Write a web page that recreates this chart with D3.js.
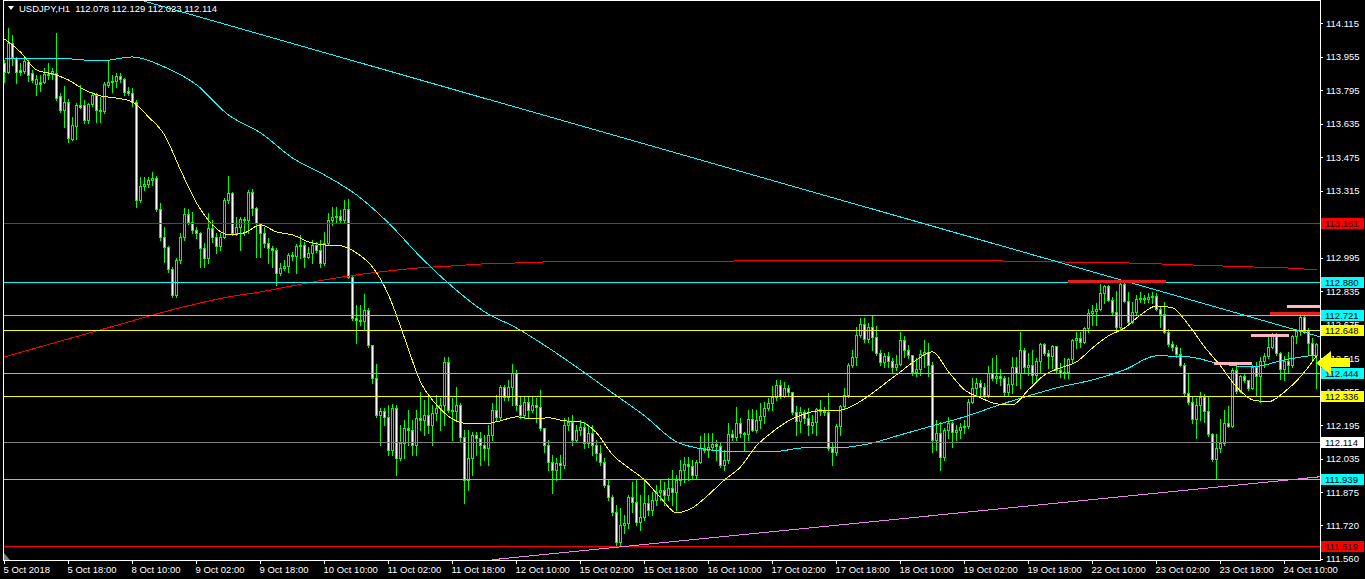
<!DOCTYPE html>
<html><head><meta charset="utf-8">
<script src="https://cdn.jsdelivr.net/npm/d3@7"></script>
<style>html,body{margin:0;padding:0;background:#000;overflow:hidden}svg{display:block}text{font-family:"Liberation Sans",Arial,sans-serif;font-size:9.5px}</style>
</head><body><svg id="c" width="1365" height="579"></svg>
<script>
// ---------- DATA (USDJPY H1, bars from 5 Oct 2018 02:00) ----------
const opens = [
113.925,113.881,114.020,113.948,113.891,113.886,113.929,113.877,113.824,113.833,
113.833,113.872,113.872,113.877,113.767,113.700,113.738,113.562,113.624,113.724,
113.724,113.653,113.729,113.772,113.700,113.696,113.820,113.833,113.839,113.862,
113.848,113.791,113.781,113.738,113.271,113.338,113.347,113.366,113.376,113.228,
113.094,113.047,112.942,112.818,112.985,113.094,113.204,113.166,113.128,113.114,
113.042,112.994,113.137,113.094,113.052,113.094,113.271,113.304,113.114,113.142,
113.180,113.176,113.309,113.233,113.157,113.114,113.066,113.042,113.033,112.923,
112.947,112.956,113.009,113.004,113.052,113.056,112.999,113.018,113.056,113.033,
112.970,113.066,113.176,113.190,113.195,113.176,113.228,112.904,112.708,112.699,
112.694,112.746,112.579,112.422,112.245,112.265,112.236,112.079,112.279,112.040,
112.112,112.184,112.174,112.102,112.231,112.222,112.245,112.198,112.255,112.279,
112.293,112.498,112.269,112.265,112.293,112.141,111.935,112.040,112.150,112.136,
112.102,112.088,112.150,112.269,112.236,112.379,112.331,112.379,112.446,112.293,
112.245,112.308,112.269,112.293,112.284,112.184,112.102,112.021,111.983,112.016,
112.007,112.198,112.212,112.126,112.174,112.188,112.112,112.160,112.102,112.064,
112.021,111.911,111.854,111.783,111.640,111.721,111.730,111.854,111.830,111.735,
111.759,111.826,111.792,111.840,111.878,111.888,111.864,111.897,111.878,111.935,
111.983,112.012,112.002,111.959,112.021,112.088,112.079,112.093,112.107,112.098,
112.007,112.031,112.155,112.141,112.207,112.160,112.155,112.226,112.174,112.222,
112.241,112.279,112.303,112.331,112.389,112.336,112.374,112.355,112.260,112.217,
112.260,112.231,112.198,112.212,112.274,112.265,112.260,112.088,112.069,112.193,
112.288,112.341,112.484,112.522,112.627,112.680,112.608,112.665,112.618,112.541,
112.498,112.527,112.503,112.474,112.489,112.603,112.556,112.532,112.451,112.465,
112.537,112.546,112.484,112.126,112.160,112.045,112.174,112.207,112.164,112.174,
112.188,112.193,112.308,112.374,112.398,112.379,112.341,112.446,112.422,112.431,
112.422,112.355,112.393,112.474,112.446,112.556,112.474,112.484,112.436,112.503,
112.584,112.541,112.527,112.575,112.460,112.446,112.451,112.513,112.603,112.613,
112.594,112.660,112.732,112.742,112.751,112.827,112.861,112.794,112.737,112.665,
112.870,112.789,112.689,112.737,112.799,112.804,112.799,112.808,112.813,112.751,
112.727,112.641,112.584,112.570,112.537,112.484,112.350,112.308,112.226,112.293,
112.331,112.265,112.155,112.036,112.088,112.112,112.207,112.193,112.460,112.360,
112.431,112.412,112.374,112.474,112.431,112.503,112.527,112.570,112.622,112.541,
112.465,112.503,112.484,112.622,112.646,112.713,112.646,112.589,112.532];
const highs = [
113.939,114.092,114.058,113.953,113.925,113.948,113.939,113.891,113.867,113.867,
113.901,113.925,113.901,114.068,113.781,113.815,113.753,113.667,113.734,113.820,
113.748,113.734,113.786,113.781,113.762,113.833,113.934,113.867,113.877,113.877,
113.853,113.810,113.805,113.748,113.381,113.381,113.381,113.405,113.385,113.257,
113.142,113.052,112.951,112.994,113.114,113.233,113.228,113.214,113.142,113.118,
113.066,113.209,113.176,113.114,113.114,113.281,113.385,113.309,113.190,113.190,
113.190,113.319,113.323,113.238,113.161,113.142,113.090,113.052,113.042,112.970,
112.985,113.018,113.023,113.061,113.104,113.071,113.047,113.080,113.071,113.080,
113.118,113.209,113.238,113.238,113.223,113.271,113.276,112.913,112.770,112.770,
112.823,112.756,112.579,112.489,112.279,112.279,112.293,112.298,112.293,112.198,
112.222,112.269,112.222,112.269,112.355,112.317,112.341,112.293,112.341,112.327,
112.522,112.522,112.327,112.379,112.303,112.174,112.174,112.164,112.164,112.164,
112.150,112.198,112.303,112.341,112.389,112.389,112.412,112.489,112.460,112.336,
112.331,112.336,112.336,112.327,112.365,112.184,112.126,112.055,112.040,112.055,
112.231,112.236,112.245,112.198,112.222,112.212,112.198,112.198,112.126,112.102,
112.040,111.935,111.864,111.816,111.802,111.768,111.864,111.926,111.935,111.864,
111.935,111.864,111.878,111.911,111.935,111.926,111.945,111.983,111.959,112.031,
112.045,112.045,112.031,112.031,112.145,112.160,112.160,112.160,112.126,112.117,
112.079,112.207,112.174,112.284,112.231,112.164,112.269,112.274,112.269,112.303,
112.308,112.327,112.384,112.412,112.412,112.403,112.389,112.355,112.288,112.284,
112.269,112.279,112.245,112.279,112.317,112.284,112.350,112.117,112.203,112.293,
112.374,112.494,112.556,112.665,112.708,112.708,112.684,112.718,112.670,112.556,
112.541,112.546,112.517,112.532,112.641,112.622,112.579,112.532,112.517,112.556,
112.603,112.589,112.498,112.222,112.212,112.184,112.236,112.212,112.198,112.207,
112.222,112.322,112.422,112.422,112.412,112.398,112.479,112.517,112.532,112.465,
112.431,112.427,112.522,112.522,112.641,112.565,112.541,112.556,112.517,112.589,
112.589,112.556,112.579,112.575,112.494,112.517,112.517,112.608,112.641,112.641,
112.665,112.751,112.770,112.780,112.870,112.866,112.866,112.808,112.837,112.875,
112.875,112.832,112.785,112.818,112.832,112.818,112.827,112.832,112.827,112.761,
112.785,112.656,112.599,112.579,112.565,112.494,112.446,112.336,112.327,112.355,
112.346,112.331,112.160,112.155,112.226,112.269,112.288,112.470,112.479,112.436,
112.441,112.412,112.484,112.498,112.522,112.541,112.618,112.637,112.637,112.546,
112.527,112.546,112.627,112.656,112.722,112.732,112.660,112.613,112.589];
const lows = [
113.833,113.877,113.915,113.829,113.867,113.877,113.839,113.833,113.772,113.791,
113.829,113.848,113.848,113.748,113.691,113.619,113.548,113.557,113.562,113.710,
113.638,113.638,113.719,113.643,113.643,113.686,113.810,113.786,113.810,113.833,
113.772,113.772,113.719,113.238,113.261,113.319,113.333,113.343,113.219,113.080,
112.975,112.928,112.808,112.808,112.970,113.080,113.157,113.114,113.090,112.951,
112.951,112.970,113.071,113.018,113.033,113.090,113.257,113.104,113.104,113.033,
113.104,113.114,113.199,112.999,112.999,113.047,112.970,112.951,112.866,112.913,
112.937,112.928,112.985,112.923,112.994,112.951,112.994,112.970,113.023,112.951,
112.961,113.056,113.152,113.166,113.166,113.166,112.899,112.699,112.589,112.675,
112.651,112.570,112.398,112.236,112.102,112.198,112.055,112.055,111.959,112.031,
112.040,112.102,112.055,112.055,112.174,112.150,112.160,112.102,112.222,112.174,
112.198,112.260,112.126,112.222,112.117,111.826,111.888,111.959,112.055,112.007,
112.031,112.007,112.126,112.222,112.222,112.317,112.317,112.293,112.269,112.231,
112.231,112.231,112.260,112.212,112.174,112.069,111.983,111.873,111.935,111.945,
111.993,112.174,112.102,112.117,112.150,112.088,112.093,112.055,112.031,112.007,
111.902,111.840,111.768,111.625,111.625,111.683,111.707,111.783,111.721,111.697,
111.745,111.768,111.768,111.816,111.840,111.816,111.840,111.816,111.792,111.911,
111.926,111.935,111.945,111.945,112.016,112.069,112.045,112.079,112.031,111.997,
111.983,112.016,112.126,112.126,112.141,112.079,112.126,112.169,112.164,112.184,
112.207,112.269,112.269,112.317,112.327,112.331,112.341,112.250,112.150,112.164,
112.207,112.150,112.160,112.150,112.245,112.245,112.079,112.007,112.055,112.150,
112.279,112.331,112.474,112.484,112.618,112.594,112.594,112.556,112.532,112.484,
112.474,112.474,112.451,112.460,112.484,112.522,112.517,112.436,112.431,112.436,
112.474,112.431,112.069,112.079,111.983,112.031,112.136,112.093,112.126,112.136,
112.160,112.184,112.303,112.341,112.341,112.331,112.331,112.412,112.398,112.389,
112.341,112.336,112.350,112.389,112.374,112.446,112.436,112.398,112.412,112.446,
112.532,112.470,112.470,112.446,112.427,112.422,112.422,112.498,112.565,112.570,
112.589,112.641,112.675,112.675,112.746,112.780,112.789,112.722,112.641,112.651,
112.785,112.675,112.684,112.722,112.785,112.780,112.785,112.780,112.746,112.665,
112.637,112.575,112.556,112.522,112.479,112.341,112.298,112.207,112.136,112.222,
112.212,112.145,112.026,111.945,112.069,112.102,112.188,112.188,112.350,112.355,
112.403,112.365,112.370,112.341,112.308,112.474,112.517,112.565,112.532,112.417,
112.412,112.446,112.474,112.589,112.627,112.637,112.532,112.508,112.374];
const closes = [
113.881,114.020,113.953,113.881,113.881,113.934,113.867,113.843,113.848,113.824,
113.872,113.867,113.886,113.757,113.700,113.738,113.567,113.629,113.724,113.715,
113.653,113.729,113.772,113.700,113.696,113.824,113.833,113.839,113.862,113.848,
113.786,113.781,113.738,113.271,113.338,113.347,113.366,113.376,113.228,113.094,
113.047,112.942,112.818,112.985,113.094,113.204,113.166,113.128,113.114,113.042,
112.994,113.137,113.094,113.052,113.094,113.271,113.304,113.114,113.142,113.180,
113.176,113.309,113.233,113.161,113.114,113.066,113.042,113.033,112.923,112.947,
112.956,113.009,113.004,113.052,113.056,112.999,113.018,113.056,113.033,112.970,
113.066,113.176,113.190,113.195,113.176,113.228,112.904,112.708,112.699,112.694,
112.746,112.579,112.422,112.245,112.265,112.236,112.079,112.279,112.040,112.112,
112.184,112.174,112.102,112.231,112.222,112.245,112.198,112.255,112.279,112.293,
112.498,112.269,112.265,112.293,112.141,111.935,112.040,112.150,112.136,112.102,
112.088,112.150,112.269,112.236,112.379,112.331,112.379,112.446,112.293,112.245,
112.308,112.269,112.293,112.284,112.184,112.102,112.021,111.983,112.016,112.007,
112.198,112.212,112.126,112.174,112.188,112.112,112.160,112.102,112.064,112.021,
111.911,111.854,111.783,111.640,111.721,111.730,111.854,111.830,111.735,111.759,
111.826,111.792,111.840,111.878,111.888,111.864,111.897,111.878,111.935,111.983,
112.012,112.002,111.959,112.021,112.088,112.079,112.093,112.107,112.098,112.007,
112.031,112.155,112.141,112.207,112.160,112.155,112.226,112.174,112.222,112.241,
112.279,112.303,112.331,112.389,112.336,112.374,112.355,112.260,112.217,112.260,
112.231,112.198,112.212,112.274,112.265,112.260,112.088,112.069,112.193,112.288,
112.341,112.484,112.522,112.627,112.680,112.608,112.665,112.618,112.541,112.498,
112.527,112.503,112.474,112.489,112.603,112.556,112.532,112.451,112.465,112.537,
112.546,112.484,112.126,112.160,112.045,112.174,112.207,112.164,112.174,112.188,
112.193,112.308,112.374,112.398,112.379,112.341,112.446,112.422,112.431,112.422,
112.355,112.393,112.474,112.446,112.556,112.474,112.484,112.436,112.503,112.584,
112.541,112.527,112.575,112.460,112.446,112.451,112.513,112.603,112.613,112.594,
112.660,112.732,112.742,112.751,112.827,112.861,112.794,112.737,112.665,112.870,
112.789,112.689,112.737,112.799,112.804,112.799,112.808,112.813,112.751,112.727,
112.641,112.584,112.570,112.537,112.484,112.350,112.308,112.226,112.293,112.331,
112.265,112.155,112.036,112.088,112.112,112.207,112.193,112.460,112.360,112.431,
112.412,112.374,112.474,112.431,112.503,112.527,112.570,112.622,112.541,112.465,
112.503,112.484,112.622,112.646,112.713,112.646,112.589,112.532,112.584];

// Moving averages (yellow every 4 bars, cyan and red every 8 bars)
const yellowMAStep = 4;
const yellowMA = [114.039,113.976,113.891,113.872,113.843,113.796,113.767,113.757,113.738,113.667,
113.581,113.414,113.257,113.152,113.104,113.114,113.152,113.118,113.104,113.071,
113.056,113.052,113.018,112.951,112.818,112.613,112.403,112.293,112.226,112.203,
112.203,112.217,112.236,112.226,112.231,112.217,112.212,112.160,112.055,111.993,
111.935,111.850,111.778,111.802,111.864,111.935,111.997,112.098,112.164,112.217,
112.250,112.265,112.265,112.288,112.336,112.393,112.451,112.508,112.546,112.451,
112.365,112.327,112.298,112.293,112.365,112.436,112.470,112.498,112.565,112.622,
112.660,112.722,112.765,112.756,112.675,112.570,112.479,112.379,112.317,112.308,
112.355,112.427,112.527];
const cyanMAStep = 8;
const cyanMA = [113.948,113.948,113.944,113.934,113.953,113.905,113.820,113.676,113.591,113.471,
113.390,113.295,113.161,112.999,112.856,112.737,112.660,112.565,112.460,112.350,
112.241,112.117,112.079,112.069,112.069,112.088,112.088,112.107,112.150,112.193,
112.236,112.288,112.336,112.379,112.412,112.460,112.527,112.522,112.489,112.474,
112.508,112.532];
const redMAStep = 8;
const redMA = [112.522,112.565,112.608,112.651,112.694,112.737,112.775,112.808,112.832,112.861,
112.889,112.913,112.932,112.947,112.956,112.966,112.970,112.975,112.975,112.975,
112.975,112.975,112.975,112.980,112.980,112.980,112.980,112.980,112.980,112.980,
112.980,112.980,112.975,112.975,112.970,112.970,112.966,112.961,112.956,112.951,
112.947,112.937];

// Horizontal price lines
const hLinePrices = [113.161,112.880,112.721,112.648,112.444,112.336,112.114,111.939,111.619];
const hLineLabels = ["113.161","112.880","112.721","112.648","112.444","112.336","112.114","111.939","111.619"];
// Short level segments (bar index from/to, price)
const segFrom  = [266, 302.5, 311.75, 316.5, 320.75];
const segTo    = [290.5, 312, 321.25, 329.75, 329];
const segPrice = [112.884, 112.494, 112.627, 112.732, 112.765];
// Trend lines (bar index, price)
const cyanTrendBars = [34, 329], cyanTrendPrices = [114.225, 112.618];
const violetTrendBars = [122, 329], violetTrendPrices = [111.554, 111.950];
// Axis labels
const priceTickLabels = ["114.115","113.955","113.795","113.635","113.475","113.315","113.155","112.995","112.835","112.675","112.515","112.355","112.195","112.035","111.875","111.720","111.560"];
const timeTickLabels = ["5 Oct 2018","5 Oct 18:00","8 Oct 10:00","9 Oct 02:00","9 Oct 18:00","10 Oct 10:00","11 Oct 02:00","11 Oct 18:00","12 Oct 10:00","15 Oct 02:00","15 Oct 18:00","16 Oct 10:00","17 Oct 02:00","17 Oct 18:00","18 Oct 10:00","19 Oct 02:00","19 Oct 18:00","22 Oct 10:00","23 Oct 02:00","23 Oct 18:00","24 Oct 10:00"];
const headerText = "USDJPY,H1  112.078 112.129 112.023 112.114";

// ---------- STYLES ----------
const hLineColors = ["#ff0000","#00ffff","#00ffff","#ffff00","#00ffff","#ffff00","#808080","#00ffff","#ff0000"];
const hLabelBg    = ["#ff0000","#00ffff","#00ffff","#ffff00","#00ffff","#ffff00","#ffffff","#00ffff","#ff0000"];
const segColors = ["#e51d1d","#ffb6c1","#ffb6c1","#e51d1d","#ffb6c1"];
const candleColor = "#00ff00";
const FONT = "Liberation Sans, Arial, sans-serif";

// ---------- DRAW ----------
const svg = d3.select("#c");
svg.append("rect").attr("width",1365).attr("height",579).attr("fill","#000");

const nBars = closes.length;
const x = d3.scaleLinear().domain([0, 329]).range([4, 1320]);
const y = d3.scaleLinear().domain([111.560, 114.115]).range([558.5, 23]);
const py = v => Math.round(y(v));

const defs = svg.append("defs");
defs.append("clipPath").attr("id","plot").append("rect").attr("x",4).attr("y",1).attr("width",1316).attr("height",559);

const plot = svg.append("g").attr("clip-path","url(#plot)").attr("shape-rendering","crispEdges");

// candles
const bars = d3.range(nBars).map(i => ({i, o:opens[i], h:highs[i], l:lows[i], c:closes[i]}));
const cg = plot.append("g");
bars.forEach(d => {
  const cx = Math.round(x(d.i));
  const yh = py(d.h), yl = py(d.l);
  const yo = py(d.o), yc = py(d.c);
  const top = Math.min(yo, yc), bot = Math.max(yo, yc);
  cg.append("rect").attr("x", cx).attr("y", yh).attr("width", 1).attr("height", yl - yh + 1).attr("fill", candleColor);
  cg.append("rect").attr("x", cx - 1).attr("y", top).attr("width", 3).attr("height", bot - top + 1).attr("fill", candleColor);
  if (bot - top >= 2) {
    cg.append("rect").attr("x", cx).attr("y", top + 1).attr("width", 1).attr("height", bot - top - 1)
      .attr("fill", d.c < d.o ? "#ffffff" : "#000000");
  }
});

// moving averages
const maLine = step => d3.line().x((d,i) => x(i*step) + 0.5).y(d => y(d)).curve(d3.curveMonotoneX);
plot.append("path").datum(redMA).attr("d", maLine(redMAStep)).attr("fill","none").attr("stroke","#ff0000").attr("stroke-width",1);
plot.append("path").datum(cyanMA).attr("d", maLine(cyanMAStep)).attr("fill","none").attr("stroke","#00ffff").attr("stroke-width",1);
plot.append("path").datum(yellowMA).attr("d", maLine(yellowMAStep)).attr("fill","none").attr("stroke","#ffff00").attr("stroke-width",1);

// horizontal lines
hLinePrices.forEach((p,k) => {
  const yy = py(p) + 0.5;
  plot.append("line").attr("x1",4).attr("x2",1320).attr("y1",yy).attr("y2",yy).attr("stroke",hLineColors[k]).attr("stroke-width",1);
});

// trend lines
plot.append("line").attr("x1",x(cyanTrendBars[0])).attr("y1",y(cyanTrendPrices[0])).attr("x2",x(cyanTrendBars[1])).attr("y2",y(cyanTrendPrices[1]))
  .attr("stroke","#00ffff").attr("stroke-width",1);
plot.append("line").attr("x1",x(violetTrendBars[0])).attr("y1",y(violetTrendPrices[0])).attr("x2",x(violetTrendBars[1])).attr("y2",y(violetTrendPrices[1]))
  .attr("stroke","#ee82ee").attr("stroke-width",1);

// level segments
const segG = svg.append("g").attr("shape-rendering","crispEdges");
segPrice.forEach((p,k) => {
  const x1 = Math.round(x(segFrom[k])), x2 = Math.round(x(segTo[k]));
  segG.append("rect").attr("x",x1).attr("y",py(p)-1).attr("width",x2-x1).attr("height",3).attr("fill",segColors[k]);
});

// frame
const fr = svg.append("g").attr("stroke","#ffffff").attr("stroke-width",1).attr("shape-rendering","crispEdges");
fr.append("line").attr("x1",3.5).attr("x2",3.5).attr("y1",0).attr("y2",561);
fr.append("line").attr("x1",3).attr("x2",1321).attr("y1",0.5).attr("y2",0.5);
fr.append("line").attr("x1",1320.5).attr("x2",1320.5).attr("y1",0).attr("y2",561);
fr.append("line").attr("x1",3).attr("x2",1321).attr("y1",560.5).attr("y2",560.5);

// chart shift marker
svg.append("path").attr("d","M4,553 L4,560 L10,560 Z").attr("fill","#808080");

// right price axis
const yAxis = d3.axisRight(y)
  .tickValues(priceTickLabels.map(Number))
  .tickFormat((d,i) => priceTickLabels[i])
  .tickSize(3).tickPadding(3);
const ya = svg.append("g").attr("transform","translate(1320,0)").call(yAxis);
ya.select(".domain").remove();
ya.selectAll("line").attr("stroke","#ffffff").attr("shape-rendering","crispEdges");
ya.selectAll("text").attr("fill","#ffffff").attr("font-size","9.5px").attr("font-family",FONT);

// bottom time axis
const xAxis = d3.axisBottom(x)
  .tickValues(d3.range(0, 321, 16))
  .tickFormat((d,i) => timeTickLabels[i])
  .tickSize(4).tickPadding(2);
const xa = svg.append("g").attr("transform","translate(0,560)").call(xAxis);
xa.select(".domain").remove();
xa.selectAll("line").attr("stroke","#ffffff").attr("shape-rendering","crispEdges");
xa.selectAll("text").attr("fill","#ffffff").attr("text-anchor","start").attr("dx","-1px")
  .attr("font-size","9.5px").attr("font-family",FONT);

// price labels of the horizontal lines
hLinePrices.forEach((p,k) => {
  const yy = py(p);
  svg.append("rect").attr("x",1321).attr("y",yy-5).attr("width",43).attr("height",11).attr("fill",hLabelBg[k]).attr("shape-rendering","crispEdges");
  svg.append("text").attr("x",1325).attr("y",yy+3.5).attr("fill","#000000").attr("font-size","9.5px").text(hLineLabels[k]);
});

// yellow arrow marker
svg.append("path").attr("d","M1316,363 L1331,351 L1331,358 L1350,358 L1350,367 L1331,367 L1331,375 Z").attr("fill","#ffff00");

// header
svg.append("path").attr("d","M8,6 L14,6 L11,10 Z").attr("fill","#ffffff");
svg.append("text").attr("x",19).attr("y",12).attr("fill","#ffffff").attr("font-size","9.5px").attr("xml:space","preserve").style("white-space","pre").text(headerText);
</script>
</body></html>
